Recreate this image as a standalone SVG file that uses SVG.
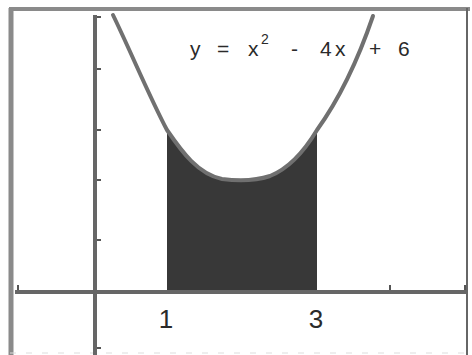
<svg xmlns="http://www.w3.org/2000/svg" width="472" height="355" viewBox="0 0 472 355">
<style>
.frame{stroke:#8a8a8a;fill:none}
.axis{stroke:#666;stroke-width:4;fill:none}
.tick{stroke:#555;stroke-width:2;fill:none}
.curve{stroke:#707070;stroke-width:4;fill:none;stroke-linecap:round;stroke-linejoin:round}
.lbl{font-family:"Liberation Sans",Arial,sans-serif;fill:#2a2a2a}
</style>
<rect width="472" height="355" fill="#fff"/>
<g id="frame">
<line class="frame" x1="9" y1="9" x2="470" y2="9" stroke-width="4"/>
<line class="frame" x1="11" y1="8" x2="11" y2="355" stroke-width="5"/>
<line x1="467" y1="8" x2="467" y2="355" stroke="#666" stroke-width="2"/>
<line x1="10" y1="353" x2="470" y2="353" stroke="#ddd" stroke-width="1" stroke-dasharray="6,10"/>
</g>
<g id="area">
<path d="M167,130 C182,152 198,174 222,179 C238,181 255,181 270,176 C290,168 305,150 317,130 L317,292 L167,292 Z" fill="#383838"/>
</g>
<g id="axes">
<line class="axis" x1="15" y1="292" x2="467" y2="292"/>
<line class="axis" x1="95" y1="15" x2="95" y2="355"/>
<path class="tick" d="M97,17 h4 M97,69 h4 M97,130 h4 M97,180 h4 M97,240 h4 M97,348 h4 M390,290 v-5 M465,290 v-5 M18,290 v-5"/>
</g>
<g id="curve">
<path class="curve" d="M113,15 C130,50 150,98 167,130 C182,152 198,174 222,179 C238,181 255,181 270,176 C290,168 305,150 317,130 C340,98 358,60 373,16"/>
</g>
<g id="labels">
<text class="lbl" x="166" y="328" font-size="26" text-anchor="middle">1</text>
<text class="lbl" x="316" y="328" font-size="26" text-anchor="middle">3</text>
<text class="lbl" font-size="21" y="56" fill="#444"><tspan x="190">y</tspan><tspan x="217">=</tspan><tspan x="248">x</tspan><tspan x="261" y="44" font-size="14">2</tspan><tspan x="291" y="56">-</tspan><tspan x="320">4</tspan><tspan x="335">x</tspan><tspan x="369">+</tspan><tspan x="398">6</tspan></text>
</g>
</svg>
